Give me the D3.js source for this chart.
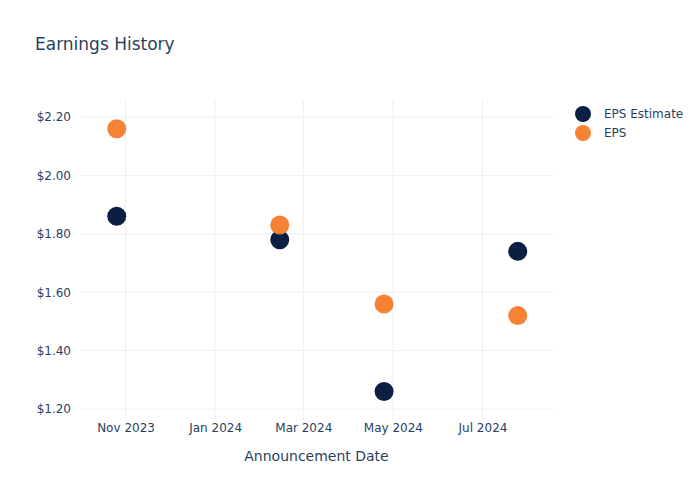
<!DOCTYPE html>
<html><head><meta charset="utf-8">
<script src="https://cdn.jsdelivr.net/npm/d3@7"></script>
<style>body{margin:0;background:#fff;} text{font-family:"DejaVu Sans",Verdana,sans-serif;}</style>
</head><body>
<svg id="chart" width="700" height="500"></svg>
<script>
const dates = ["2023-10-26","2024-02-14","2024-04-25","2024-07-25"];
const epsEstimate = [1.86, 1.78, 1.26, 1.74];
const eps = [2.16, 1.83, 1.56, 1.52];
const seriesNames = ["EPS Estimate","EPS"];
const seriesColors = ["#0b1f42","#f68235"];
const yTicks = [1.2,1.4,1.6,1.8,2.0,2.2];
const xTickDates = ["2023-11-01","2024-01-01","2024-03-01","2024-05-01","2024-07-01"];

const parse = d3.utcParse("%Y-%m-%d");
const svg = d3.select("#chart");
const L=80, R=553, T=100, B=420;
const x = d3.scaleUtc().domain([parse("2023-10-01"), parse("2024-08-18")]).range([L,R]);
const y = d3.scaleLinear().domain([1.159, 2.255]).range([B+1,T+1]);
const textColor="#2a3f5f", gridColor="#ebf0f8";

// grid
svg.append("g").selectAll("line").data(yTicks).join("line")
  .attr("x1",L).attr("x2",R).attr("y1",d=>y(d)).attr("y2",d=>y(d))
  .attr("stroke",gridColor).attr("stroke-width",1);
svg.append("g").selectAll("line").data(xTickDates.map(parse)).join("line")
  .attr("x1",d=>x(d)).attr("x2",d=>x(d)).attr("y1",T).attr("y2",B)
  .attr("stroke",gridColor).attr("stroke-width",1);

// axes
const yAxis = d3.axisLeft(y).tickValues(yTicks).tickSize(0).tickPadding(9).tickFormat(d=>"$"+d3.format(".2f")(d));
const gy = svg.append("g").attr("transform",`translate(${L},0)`).call(yAxis);
gy.select(".domain").remove();
gy.selectAll("text").attr("fill",textColor).style("font-size","12px");

const fmt = d3.utcFormat("%b %Y");
const xAxis = d3.axisBottom(x).tickValues(xTickDates.map(parse)).tickSize(0).tickPadding(3).tickFormat(fmt);
const gx = svg.append("g").attr("transform",`translate(0,${B})`).call(xAxis);
gx.select(".domain").remove();
gx.selectAll("text").attr("fill",textColor).style("font-size","12px");

// titles
svg.append("text").attr("x",35).attr("y",50).attr("fill",textColor).style("font-size","17px").text("Earnings History");
svg.append("text").attr("x",(L+R)/2).attr("y",461).attr("text-anchor","middle").attr("fill",textColor).style("font-size","14px").text("Announcement Date");

// points
const series = [epsEstimate, eps];
series.forEach((vals,i)=>{
  svg.append("g").selectAll("circle").data(vals).join("circle")
    .attr("cx",(d,j)=>x(parse(dates[j]))).attr("cy",d=>y(d)).attr("r",9.5)
    .attr("fill",seriesColors[i]);
});

// legend
const lg = svg.append("g").attr("transform","translate(583,114)");
seriesNames.forEach((n,i)=>{
  lg.append("circle").attr("cx",0).attr("cy",i*19).attr("r",8).attr("fill",seriesColors[i]);
  lg.append("text").attr("x",21).attr("y",i*19+4).attr("fill",textColor).style("font-size","12px").text(n);
});
</script>
</body></html>
